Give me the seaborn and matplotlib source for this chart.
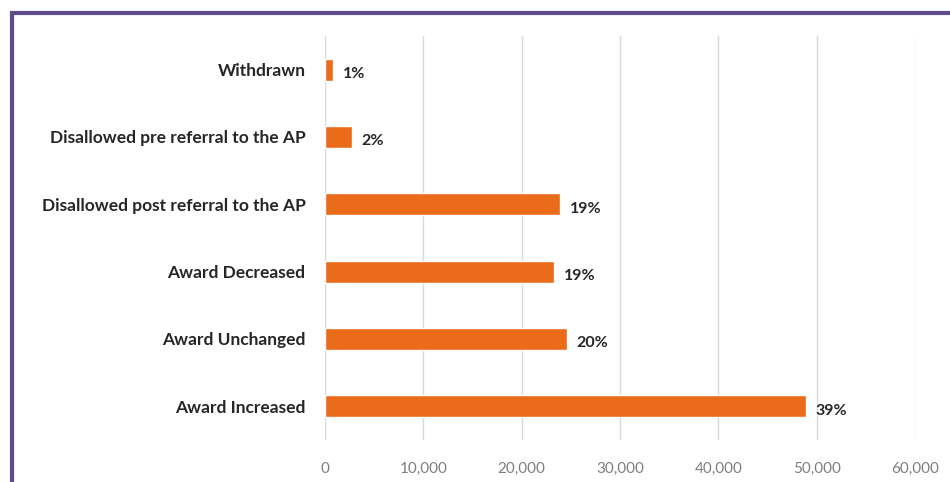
import matplotlib
matplotlib.use("Agg")
import matplotlib.pyplot as plt
import seaborn as sns
import pandas as pd
from matplotlib.ticker import FuncFormatter
from matplotlib.patches import Rectangle

categories = ["Withdrawn", "Disallowed pre referral to the AP", "Disallowed post referral to the AP",
              "Award Decreased", "Award Unchanged", "Award Increased"]
counts = [800, 2750, 23900, 23300, 24600, 48900]
pct_labels = ["1%", "2%", "19%", "19%", "20%", "39%"]

df = pd.DataFrame({"outcome": categories, "count": counts})

sns.set_style("white")
plt.rcParams["font.family"] = ["Lato", "DejaVu Sans"]

fig = plt.figure(figsize=(9.5, 4.82), dpi=100)
ax = fig.add_axes([325 / 950, 1 - 440 / 482, (915 - 325) / 950, (440 - 36) / 482])

sns.barplot(data=df, y="outcome", x="count", orient="h", color="#EA6C1B",
            width=0.33, saturation=1, ax=ax, zorder=3)

for i, (v, lab) in enumerate(zip(counts, pct_labels)):
    ax.text(v + 1000, i + 0.04, lab, va="center_baseline", ha="left", fontsize=11.5,
            fontweight="bold", color="#262626")

ax.set_xlim(0, 60000)
ax.set_xticks(range(0, 60001, 10000))
ax.xaxis.set_major_formatter(FuncFormatter(lambda x, p: f"{int(x):,}"))
ax.grid(axis="x", color="#d9d9d9", linewidth=1, zorder=0)
ax.set_xlabel("")
ax.set_ylabel("")
for s in ax.spines.values():
    s.set_visible(False)
ax.tick_params(axis="x", labelsize=11, colors="#7f7f7f", length=0, pad=16)
ax.tick_params(axis="y", length=0, pad=14)
for t in ax.get_yticklabels():
    t.set_fontsize(12.5)
    t.set_fontweight("bold")
    t.set_color("#262626")

# purple frame along top and left
fig.patches.append(Rectangle((12 / 950, -0.1), 1.2, 1 - 13 / 482 + 0.1, transform=fig.transFigure,
                             fill=False, edgecolor="#5E4B8B", linewidth=3))

fig.savefig("out.png", dpi=100)
